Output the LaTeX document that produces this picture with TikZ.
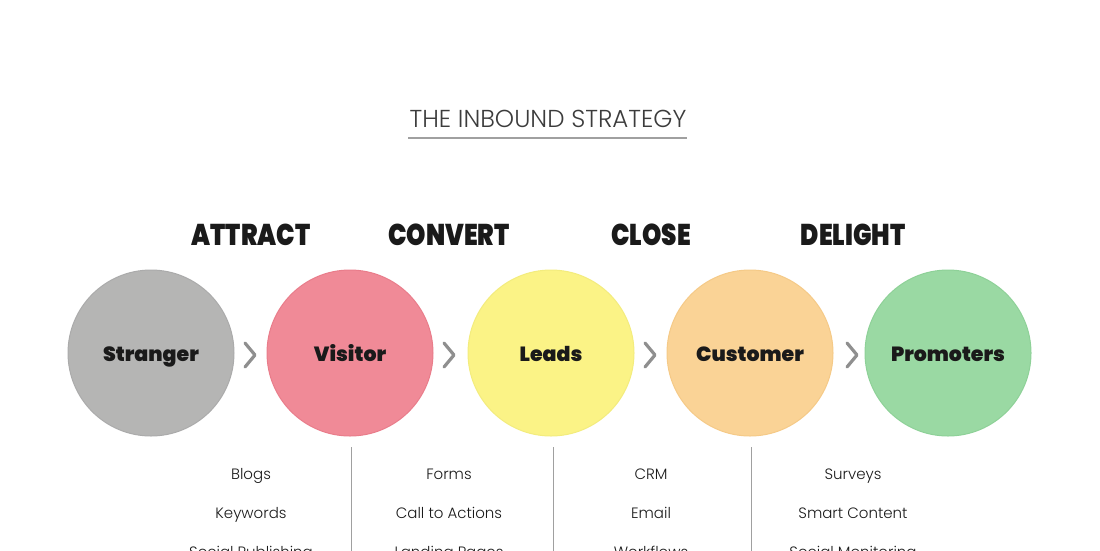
\documentclass[tikz,border=0pt]{standalone}
\usepackage{fontspec}
\setmainfont{Poppins}
\newfontfamily\titlefont{Poppins Light}
\newfontfamily\headfont[FakeStretch=0.82]{Poppins Black}
\newfontfamily\circfont{Poppins Black}
\newfontfamily\itemfont{Poppins Light}
\definecolor{cgray}{HTML}{B5B5B4}
\definecolor{cgrayb}{HTML}{ABABAB}
\definecolor{cpink}{HTML}{F08A97}
\definecolor{cpinkb}{HTML}{E97D8B}
\definecolor{cyel}{HTML}{FBF386}
\definecolor{cyelb}{HTML}{F3EC7E}
\definecolor{corg}{HTML}{FAD396}
\definecolor{corgb}{HTML}{F5CA88}
\definecolor{cgrn}{HTML}{9AD9A3}
\definecolor{cgrnb}{HTML}{8ED198}
\definecolor{chev}{HTML}{8F8F8F}
\definecolor{ink}{HTML}{1A1A1A}
\definecolor{rule}{HTML}{A0A0A0}
\tikzset{
  stage/.style={circle, minimum size=166pt, inner sep=0pt, line width=1pt},
  stagelabel/.style={anchor=base, font=\circfont\fontsize{20.5}{20.5}\selectfont, text=ink, inner sep=0pt},
  head/.style={anchor=base, inner sep=0pt, font=\headfont\fontsize{30}{30}\selectfont, text=ink},
  item/.style={anchor=base, inner sep=0pt, font=\itemfont\fontsize{15}{16}\selectfont, text=ink},
  chevron/.style={draw=chev, line width=3.2pt, line cap=round, line join=round},
  divider/.style={draw=rule, line width=1pt}
}
\begin{document}
\begin{tikzpicture}[x=1pt,y=-1pt]
\useasboundingbox (0,0) rectangle (1100,550);
\clip (0,0) rectangle (1100,550);
\node[anchor=base, inner sep=0pt, font=\titlefont\fontsize{24.5}{24.5}\selectfont, text=ink!85] (title) at (548,127) {THE INBOUND STRATEGY};
\coordinate (ul) at (408,138);
\coordinate (ur) at (687,138);
\draw[draw=rule, line width=1.3pt] (ul) -- (ur);

\node[stage, fill=cgray, draw=cgrayb] (s1) at (151,353) {};
\node[stage, fill=cpink, draw=cpinkb] (s2) at (350,353) {};
\node[stage, fill=cyel, draw=cyelb] (s3) at (551,353) {};
\node[stage, fill=corg, draw=corgb] (s4) at (750,353) {};
\node[stage, fill=cgrn, draw=cgrnb] (s5) at (948,353) {};
\node[stagelabel] (l1) at (151,361) {Stranger};
\node[stagelabel] (l2) at (350,361) {Visitor};
\node[stagelabel] (l3) at (551,361) {Leads};
\node[stagelabel] (l4) at (750,361) {Customer};
\node[stagelabel] (l5) at (948,361) {Promoters};

\foreach \x/\n in {250/a,449/b,650/c,852/d}{
  \coordinate (ct\n) at (\x-5,343);
  \coordinate (cm\n) at (\x+5,355);
  \coordinate (cb\n) at (\x-5,367);
  \draw[chevron] (ct\n) -- (cm\n) -- (cb\n);
}

\node[head] (h1) at (251,245) {ATTRACT};
\node[head] (h2) at (449,245) {CONVERT};
\node[head] (h3) at (651,245) {CLOSE};
\node[head] (h4) at (853,245) {DELIGHT};

\foreach \x/\n in {351/a,553/b,751/c}{
  \coordinate (vt\n) at (\x,447);
  \coordinate (vb\n) at (\x,560);
  \draw[divider] (vt\n) -- (vb\n);
}

\node[item] (i11) at (251,479) {Blogs};
\node[item] (i12) at (251,518) {Keywords};
\node[item] (i13) at (251,557) {Social Publishing};
\node[item] (i21) at (449,479) {Forms};
\node[item] (i22) at (449,518) {Call to Actions};
\node[item] (i23) at (449,557) {Landing Pages};
\node[item] (i31) at (651,479) {CRM};
\node[item] (i32) at (651,518) {Email};
\node[item] (i33) at (651,557) {Workflows};
\node[item] (i41) at (853,479) {Surveys};
\node[item] (i42) at (853,518) {Smart Content};
\node[item] (i43) at (853,557) {Social Monitoring};
\end{tikzpicture}
\end{document}
